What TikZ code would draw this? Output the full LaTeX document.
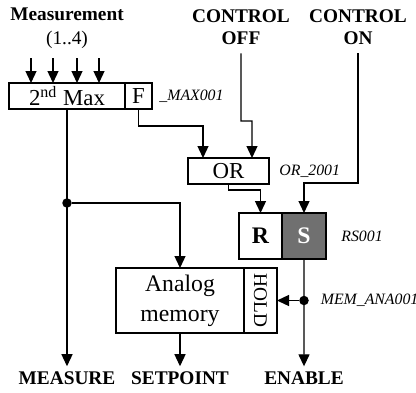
\documentclass[tikz,border=0pt]{standalone}
\usepackage{fontspec}
\setmainfont{Liberation Serif}
\usetikzlibrary{arrows.meta,positioning}
\definecolor{sgray}{RGB}{112,112,112}

\begin{document}
\begin{tikzpicture}[
    font=\fontsize{11}{12.5}\selectfont, line width=0.75pt,
    block/.style={draw,fill=white,align=center,inner sep=2pt,outer sep=0pt,
        minimum height=0.52cm,font=\fontsize{13}{17}\selectfont},
    tag/.style={font=\fontsize{9}{10}\selectfont\itshape,inner sep=1pt},
    io/.style={font=\fontsize{11}{12.5}\selectfont\bfseries,align=center,inner sep=1pt},
    arrow/.style={-{Triangle[length=2.4mm,width=2.2mm]}},
    dot/.style={circle,fill=black,inner sep=0pt,minimum size=1.9mm}
]
\path[use as bounding box] (0,0) rectangle (8.32,7.84);

\node[io] (meas) at (1.34,7.56) {Measurement};
\node (range) at (1.34,7.04) {(1..4)};
\node[io,outer sep=4pt] (off) at (4.82,7.3) {CONTROL\\OFF};
\node[io,outer sep=4pt] (on) at (7.16,7.3) {CONTROL\\ON};

\node[block,minimum width=2.32cm] (max) at (1.34,5.92) {2\textsuperscript{nd} Max};
\node[block,minimum width=0.54cm,right=0pt of max] (F) {F};
\node[tag,right=0.1cm of F] {\_MAX001};
\foreach \x [count=\i] in {0.62,1.06,1.54,1.98} {
    \coordinate (in\i) at (\x,6.68);
    \draw[arrow] (in\i) -- (in\i |- max.north);
}

\node[block,minimum width=1.62cm] (or) at (4.57,4.42) {OR};
\node[tag,right=0.16cm of or] {OR\_2001};

\node[block,font=\fontsize{13.5}{17}\selectfont\bfseries,minimum width=0.86cm,minimum height=0.92cm] (R) at (5.21,3.12) {R};
\node[block,font=\fontsize{13.5}{17}\selectfont\bfseries,fill=sgray,text=white,minimum width=0.88cm,minimum height=0.92cm,right=0pt of R] (S) {S};
\node[tag,right=0.26cm of S] {RS001};

\node[block,font=\fontsize{13.5}{17}\selectfont,minimum width=2.56cm,minimum height=1.30cm] (mem) at (3.60,1.83) {Analog\\memory};
\node[block,font=\fontsize{11}{12}\selectfont,rotate=-90,minimum width=1.30cm,minimum height=0.66cm] (hold) at (5.21,1.83) {HOLD};

\node[io,outer sep=2pt] (measure) at (1.34,0.28) {MEASURE};
\node[io,outer sep=2pt] (setpoint) at (3.60,0.28) {SETPOINT};
\node[io,outer sep=2pt] (enable) at (6.08,0.28) {ENABLE};

\node[dot] (j1) at (1.34,3.78) {};
\node[dot] (j2) at (S |- hold) {};
\node[tag,right=0.18cm of j2] {MEM\_ANA001};

\draw[arrow] (F.south) -- ++(0,-0.34) -| ([xshift=-0.51cm]or.north);
\draw[arrow] (off.south) |- (5.04,5.42) -- ([xshift=0.47cm]or.north);
\draw[arrow] (on.south) |- ([yshift=0.6cm]S.north) -- (S.north);
\draw[arrow] (or.south) |- ([yshift=0.46cm]R.north) -- (R.north);

\draw[arrow] (max.south) -- (measure.north);
\draw[arrow] (j1) -| (mem.north);
\draw[arrow] (mem.south) -- (setpoint.north);
\draw[arrow] (S.south) -- (enable.north);
\draw[arrow] (j2) -- (hold.north);
\end{tikzpicture}
\end{document}
